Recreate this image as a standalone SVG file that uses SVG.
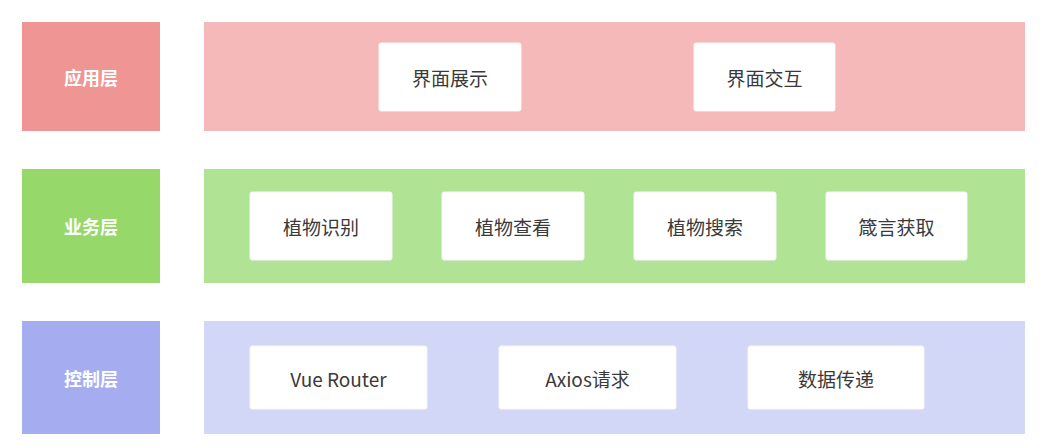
<svg xmlns="http://www.w3.org/2000/svg" width="1050" height="448" viewBox="0 0 1050 448">
<style>
.lbl{font-family:"Noto Sans CJK SC","Noto Sans",sans-serif;font-size:18px;font-weight:bold;fill:#ffffff;text-anchor:middle;dominant-baseline:central}
.txt{font-family:"Noto Sans CJK SC","Noto Sans",sans-serif;font-size:19px;fill:#3a3a3a;text-anchor:middle;dominant-baseline:central}
.node{fill:#ffffff;stroke:#f6f6f6;stroke-width:1}
</style>
<rect width="1050" height="448" fill="#ffffff"/>
<g id="row-app">
<rect x="22" y="22" width="138" height="109" fill="#EF9594"/>
<text class="lbl" x="91" y="77">应用层</text>
<rect x="204" y="22" width="821" height="109" fill="#F4B9B8"/>
</g>
<g id="node-jmzs"><rect class="node" x="379" y="43" width="142" height="68" rx="2"/><text class="txt" x="450" y="77">界面展示</text></g>
<g id="node-jmjh"><rect class="node" x="694" y="43" width="141" height="68" rx="2"/><text class="txt" x="764.5" y="77">界面交互</text></g>
<g id="row-biz">
<rect x="22" y="169" width="138" height="114" fill="#97D86A"/>
<text class="lbl" x="91" y="226">业务层</text>
<rect x="204" y="169" width="821" height="114" fill="#B1E394"/>
</g>
<g id="node-zwsb"><rect class="node" x="250" y="192" width="142" height="68" rx="2"/><text class="txt" x="321" y="226">植物识别</text></g>
<g id="node-zwck"><rect class="node" x="442" y="192" width="142" height="68" rx="2"/><text class="txt" x="513" y="226">植物查看</text></g>
<g id="node-zwss"><rect class="node" x="634" y="192" width="142" height="68" rx="2"/><text class="txt" x="705" y="226">植物搜索</text></g>
<g id="node-zyhq"><rect class="node" x="826" y="192" width="141" height="68" rx="2"/><text class="txt" x="896.5" y="226">箴言获取</text></g>
<g id="row-ctrl">
<rect x="22" y="321" width="138" height="113" fill="#A5ADF0"/>
<text class="lbl" x="91" y="378">控制层</text>
<rect x="204" y="321" width="821" height="113" fill="#D3D7F7"/>
</g>
<g id="node-vue"><rect class="node" x="250" y="346" width="177" height="63" rx="2"/><text class="txt" x="338.5" y="378">Vue Router</text></g>
<g id="node-axios"><rect class="node" x="499" y="346" width="177" height="63" rx="2"/><text class="txt" x="587.5" y="378">Axios请求</text></g>
<g id="node-sjcd"><rect class="node" x="748" y="346" width="176" height="63" rx="2"/><text class="txt" x="836" y="378">数据传递</text></g>
<g id="connectors"></g>
</svg>
